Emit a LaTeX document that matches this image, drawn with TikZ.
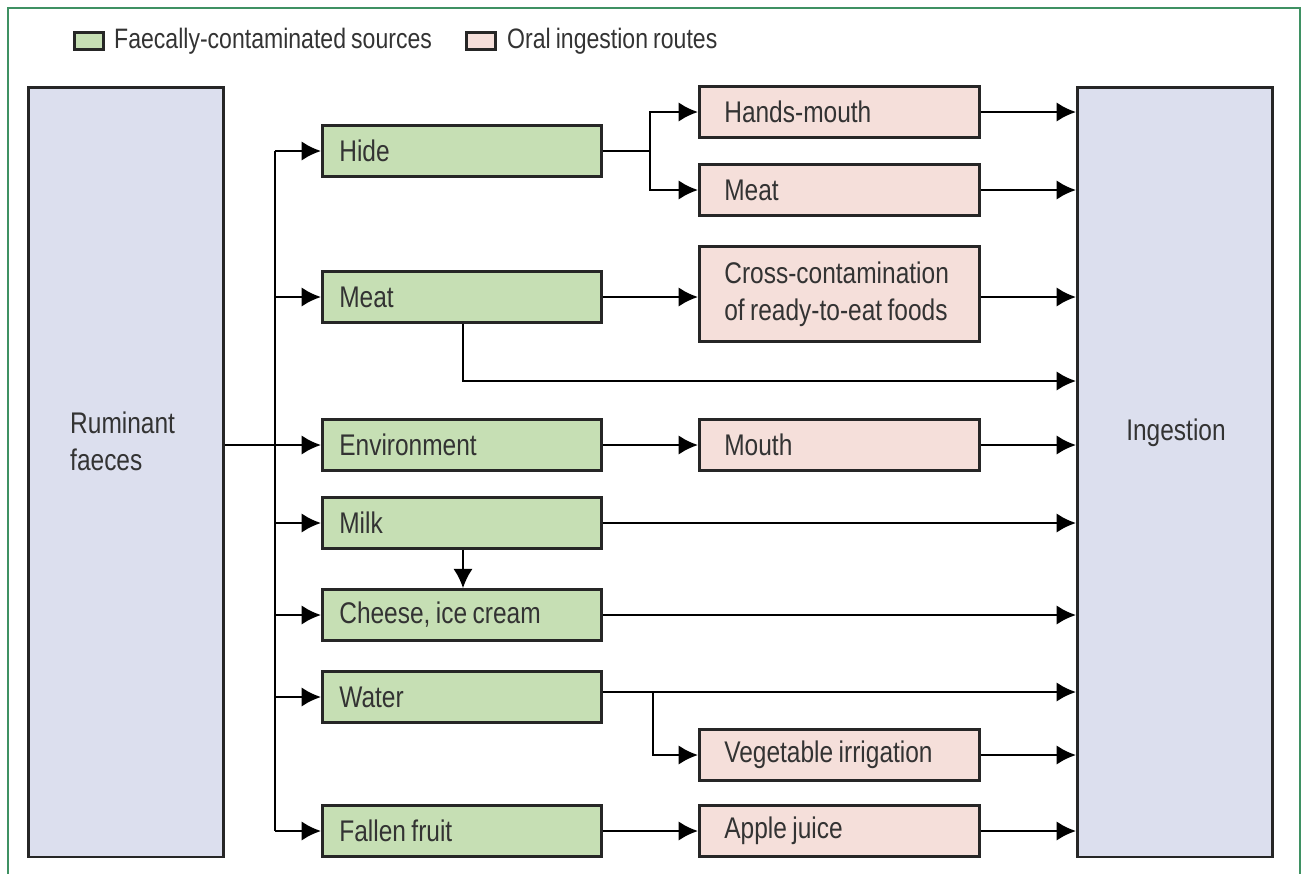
\documentclass[tikz,border=0pt]{standalone}
\usepackage{fontspec}
\setmainfont{Liberation Sans}[FakeStretch=0.82,WordSpace=0.8]
\usetikzlibrary{arrows.meta,calc}
\definecolor{srcgreen}{HTML}{C6DFB4}
\definecolor{routepink}{HTML}{F5DFDA}
\definecolor{endblue}{HTML}{DCDFEE}
\definecolor{framegreen}{HTML}{3F9163}
\definecolor{ink}{HTML}{333333}
\tikzset
{
  box/.style={draw=black!85,line width=1.5pt,anchor=west,text=ink,align=flush left,
    minimum height=1.02cm,font=\fontsize{17}{21}\selectfont},
  source/.style={box,fill=srcgreen,inner xsep=0.34cm,text width=4.9cm},
  route/.style={box,fill=routepink,inner xsep=0.5cm,text width=4.6cm},
  endbox/.style={draw=black!85,line width=1.5pt,fill=endblue,anchor=north west,
    minimum width=3.9cm,minimum height=15.4cm},
  legbox/.style={draw=black!85,line width=1.5pt,minimum width=0.58cm,minimum height=0.34cm},
  arr/.style={line width=1.4pt,-{Latex[length=11pt,width=11pt]}},
  link/.style={line width=1.4pt}
}
\begin{document}
\begin{tikzpicture}[x=0.02cm,y=-0.02cm,line join=miter]
            \useasboundingbox (0,0) rectangle (1306,873);
            % okvir
            \draw[framegreen,line width=1.2pt] (8,890) -- (8,8) -- (1300,8) -- (1300,890);
            % legenda
            \node (legs) [legbox,fill=srcgreen] at (89,41) {};
            \node (legst) [anchor=west,text=ink,font=\fontsize{16}{19}\selectfont] at (108,41) {Faecally-contaminated sources};
            \node (legr) [legbox,fill=routepink] at (481,41) {};
            \node (legrt) [anchor=west,text=ink,font=\fontsize{16}{19}\selectfont] at (501,41) {Oral ingestion routes};
            % velika polja
            \node (rum) [endbox] at (27,86) {};
            \node (rumt) [anchor=west,text=ink,align=left,font=\fontsize{17}{21}\selectfont] at (64,441) {Ruminant\\faeces};
            \node (ing) [endbox] at (1076,86) {};
            \node (ingt) [text=ink,font=\fontsize{17}{21}\selectfont] at (1176,433) {Ingestion};
            % viri
            \node (hide)   [source] at (321,151) {Hide};
            \node (meat)   [source] at (321,297) {Meat};
            \node (env)    [source] at (321,445) {Environment};
            \node (milk)   [source] at (321,523) {Milk};
            \node (cheese) [source] at (321,615) {Cheese, ice cream};
            \node (water)  [source] at (321,697) {Water};
            \node (fruit)  [source] at (321,831) {Fallen fruit};
            % poti
            \node (hands)  [route] at (698,112) {Hands-mouth};
            \node (meatr)  [route] at (698,190) {Meat};
            \node (cross)  [route,minimum height=1.9cm] at (698,294) {Cross-contamination\\\mbox{of ready-to-eat foods}};
            \node (mouth)  [route] at (698,445) {Mouth};
            \node (veg)    [route] at (698,755) {Vegetable irrigation};
            \node (apple)  [route] at (698,831) {Apple juice};
            % pomozne tocke
            \coordinate (T)  at (275,0);
            \coordinate (H)  at (650,0);
            \coordinate (M)  at (463,0);
            \coordinate (Mi) at (463,381);
            \coordinate (W)  at (653,692);
            % deblo
            \draw[arr] (rum.east |- env) -- (env.west);
            \draw[link] (T |- hide) -- (T |- fruit);
            \foreach\i in{hide,meat,milk,cheese,water,fruit}
              \draw[arr] (T |- \i) -- (\i.west);
            % hide
            \draw[link] (hide.east) -- (H |- hide);
            \draw[arr] (H |- hide) |- (hands.west);
            \draw[arr] (H |- hide) |- (meatr.west);
            % meat
            \draw[arr] (meat.east) -- (meat.east -| cross.west);
            \draw[arr] (M |- meat.south) -- (Mi) -- (Mi -| ing.west);
            % ostalo
            \draw[arr] (env.east) -- (mouth.west);
            \draw[arr] (M |- milk.south) -- (M |- cheese.north);
            \draw[arr] (milk.east) -- (milk.east -| ing.west);
            \draw[arr] (cheese.east) -- (cheese.east -| ing.west);
            \draw[arr] (water.east |- W) -- (W -| ing.west);
            \draw[arr] (W) |- (veg.west);
            \draw[arr] (fruit.east) -- (apple.west);
            % v ingestion
            \draw[arr] (meat.east -| cross.east) -- (meat.east -| ing.west);
            \foreach\i in{hands,meatr,mouth,veg,apple}
              \draw[arr] (\i.east) -- (\i.east -| ing.west);
\end{tikzpicture}
\end{document}
